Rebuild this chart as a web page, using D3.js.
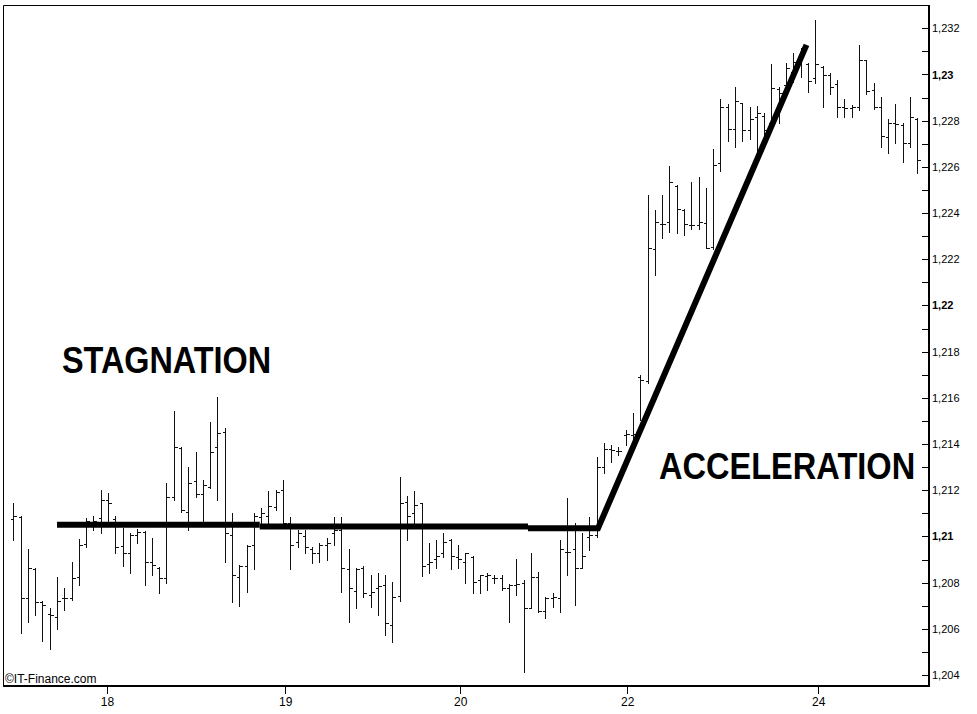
<!DOCTYPE html>
<html><head><meta charset="utf-8">
<script src="https://cdn.jsdelivr.net/npm/d3@7/dist/d3.min.js"></script>
<style>
html,body{margin:0;padding:0;background:#fff;}
svg{display:block;}
text{font-family:"Liberation Sans",Arial,sans-serif;}
</style></head>
<body>
<svg id="chart" width="977" height="714"></svg>
<script>
// ---- data (hourly OHLC) ----
const openV = [1.21074,1.21086,1.20732,1.20859,1.20718,1.20664,1.20653,1.20732,1.20732,1.20823,
1.20968,1.21064,1.21079,1.21158,1.21074,1.20959,1.20930,1.21006,1.21021,1.20891,
1.20862,1.20819,1.21172,1.21382,1.21107,1.21242,1.21184,1.21213,1.21386,1.21454,
1.21006,1.20823,1.20874,1.20963,1.21086,1.21089,1.21126,1.21201,1.21060,1.20977,
1.21002,1.20945,1.20927,1.20963,1.21016,1.21028,1.20858,1.20765,1.20862,1.20747,
1.20776,1.20790,1.20617,1.20742,1.21151,1.21103,1.21144,1.20881,1.20901,1.20927,
1.20985,1.20913,1.20891,1.20913,1.20812,1.20829,1.20819,1.20819,1.20776,1.20790,
1.20797,1.20689,1.20823,1.20679,1.20732,1.20732,1.20934,1.20945,1.20862,1.20996,
1.21006,1.21300,1.21378,1.21371,1.21439,1.21439,1.21691,1.21673,1.22245,1.22353,
1.22362,1.22518,1.22414,1.22349,1.22349,1.22357,1.22253,1.22617,1.22860,1.22764,
1.22877,1.22760,1.22816,1.22821,1.22790,1.22938,1.22955,1.23011,1.23063,1.23046,
1.22985,1.23033,1.22998,1.22959,1.22860,1.22855,1.22860,1.23063,1.22933,1.22860,
1.22730,1.22790,1.22782,1.22704,1.22808];
const highV = [1.21144,1.21089,1.20945,1.20862,1.20720,1.20689,1.20823,1.20776,1.20891,1.20988,
1.21079,1.21089,1.21201,1.21187,1.21090,1.21035,1.21014,1.21031,1.21025,1.20992,
1.20869,1.21233,1.21545,1.21386,1.21300,1.21367,1.21245,1.21497,1.21603,1.21468,
1.21103,1.20877,1.20963,1.21103,1.21122,1.21198,1.21201,1.21245,1.21086,1.21028,
1.21028,1.20956,1.20971,1.20992,1.21086,1.21086,1.20945,1.20862,1.20872,1.20833,
1.20843,1.20833,1.20804,1.21256,1.21175,1.21198,1.21146,1.20973,1.20985,1.21016,
1.20988,1.20963,1.20930,1.20916,1.20833,1.20841,1.20833,1.20833,1.20794,1.20901,
1.20812,1.20927,1.20848,1.20737,1.20754,1.20985,1.21165,1.21060,1.21014,1.21086,
1.21345,1.21404,1.21396,1.21386,1.21461,1.21536,1.21699,1.22479,1.22414,1.22479,
1.22604,1.22522,1.22418,1.22535,1.22557,1.22509,1.22678,1.22894,1.22873,1.22946,
1.22877,1.22860,1.22864,1.22834,1.23046,1.22946,1.23050,1.23094,1.23115,1.23050,
1.23236,1.23037,1.23007,1.22977,1.22894,1.22868,1.23128,1.23063,1.22964,1.22903,
1.22808,1.22873,1.22790,1.22903,1.22812];
const lowV = [1.20985,1.20583,1.20631,1.20660,1.20549,1.20513,1.20599,1.20682,1.20725,1.20790,
1.20956,1.21028,1.21014,1.21068,1.20927,1.20872,1.20841,1.20971,1.20790,1.20833,
1.20754,1.20800,1.21158,1.21107,1.21028,1.21172,1.21057,1.21209,1.21158,1.20891,
1.20718,1.20700,1.20758,1.20858,1.21057,1.21060,1.21115,1.21060,1.20859,1.20956,
1.20930,1.20884,1.20888,1.20898,1.20963,1.20761,1.20631,1.20689,1.20739,1.20693,
1.20660,1.20573,1.20544,1.20722,1.20985,1.21054,1.20829,1.20841,1.20862,1.20913,
1.20858,1.20862,1.20800,1.20757,1.20754,1.20768,1.20797,1.20768,1.20631,1.20747,
1.20415,1.20689,1.20674,1.20646,1.20696,1.20674,1.20833,1.20703,1.20862,1.20942,
1.20999,1.21274,1.21324,1.21353,1.21396,1.21404,1.21504,1.21665,1.22132,1.22292,
1.22318,1.22314,1.22305,1.22331,1.22331,1.22249,1.22245,1.22583,1.22712,1.22686,
1.22712,1.22721,1.22661,1.22708,1.22782,1.22790,1.22920,1.22968,1.22990,1.22925,
1.22964,1.22860,1.22916,1.22816,1.22816,1.22816,1.22847,1.22916,1.22851,1.22686,
1.22661,1.22704,1.22622,1.22686,1.22574];
const closeV = [1.21089,1.20732,1.20862,1.20718,1.20703,1.20660,1.20722,1.20732,1.20819,1.20963,
1.21068,1.21068,1.21158,1.21144,1.20956,1.20930,1.21006,1.21021,1.20891,1.20877,
1.20819,1.21172,1.21386,1.21115,1.21230,1.21184,1.21223,1.21367,1.21447,1.21014,
1.20833,1.20874,1.20960,1.21089,1.21103,1.21132,1.21194,1.21060,1.20963,1.21014,
1.20956,1.20930,1.20963,1.20973,1.21028,1.20862,1.20776,1.20858,1.20754,1.20761,
1.20786,1.20624,1.20739,1.21144,1.21089,1.21136,1.20872,1.20891,1.20916,1.20977,
1.20916,1.20901,1.20927,1.20804,1.20833,1.20833,1.20819,1.20776,1.20790,1.20794,
1.20689,1.20823,1.20679,1.20732,1.20739,1.20945,1.20934,1.20862,1.20916,1.21006,
1.21300,1.21378,1.21375,1.21371,1.21444,1.21444,1.21678,1.22249,1.22362,1.22353,
1.22535,1.22418,1.22353,1.22349,1.22362,1.22249,1.22609,1.22860,1.22764,1.22886,
1.22760,1.22808,1.22834,1.22760,1.22942,1.22920,1.23029,1.23055,1.23098,1.22972,
1.23046,1.22998,1.22946,1.22860,1.22855,1.22860,1.23063,1.22929,1.22860,1.22734,
1.22790,1.22786,1.22704,1.22816,1.22630];

// day labels on the time axis, and the bar index where each one falls
const dayLabels = ["18","19","20","22","24"];
const dayTickAt = [12.85, 37.3, 61.3, 84.2, 110.4];

// price axis
const priceTicks = [1.204,1.205,1.206,1.207,1.208,1.209,1.21,1.211,1.212,1.213,1.214,1.215,1.216,
1.217,1.218,1.219,1.22,1.221,1.222,1.223,1.224,1.225,1.226,1.227,1.228,1.229,1.23,1.231,1.232];
const priceLabels = ["1,204","","1,206","","1,208","","1,21","","1,212","","1,214","","1,216",
"","1,218","","1,22","","1,222","","1,224","","1,226","","1,228","","1,23","","1,232"];
const boldLabels = ["1,21","1,22","1,23"];

// hand-drawn trend lines (bar index, price)
const stagnationIdx = [6.0, 33.8, 33.8, 70.6, 70.6, 80.2];
const stagnationVal = [1.21050, 1.21050, 1.21043, 1.21043, 1.21035, 1.21035];
const accelIdx = [80.2, 108.8];
const accelVal = [1.21024, 1.23128];

// ---- drawing ----
const svg = d3.select("#chart");
svg.append("rect").attr("width",977).attr("height",714).attr("fill","#fff");

const n = openV.length;
const x = d3.scaleLinear().domain([0, n-1]).range([13.3, 917.3]);
const y = d3.scaleLinear().domain([1.204, 1.232]).range([675, 28.3]);

const L = 3.5, T = 5.5, R = 929, B = 686;

// frame
svg.append("path")
  .attr("d", `M${R},${T}H${L}V${B}`)
  .attr("fill","none").attr("stroke","#000").attr("stroke-width",1);

// bars
const bars = d3.range(n).map(i => ({i, o:openV[i], h:highV[i], l:lowV[i], c:closeV[i]}));
const g = svg.append("g").attr("stroke","#111").attr("stroke-width",1).attr("shape-rendering","crispEdges");
const px = d => Math.round(x(d.i)) + 0.5;
const py = v => Math.round(y(v)) + 0.5;
g.selectAll(".hl").data(bars).join("line")
  .attr("x1",px).attr("x2",px)
  .attr("y1",d=>Math.round(y(d.h))).attr("y2",d=>Math.round(y(d.l))+1);
g.selectAll(".op").data(bars).join("line")
  .attr("x1",d=>px(d)-3).attr("x2",px)
  .attr("y1",d=>py(d.o)).attr("y2",d=>py(d.o));
g.selectAll(".cl").data(bars).join("line")
  .attr("x1",px).attr("x2",d=>px(d)+3)
  .attr("y1",d=>py(d.c)).attr("y2",d=>py(d.c));

// trend lines
const line = d3.line().x(d=>x(d[0])).y(d=>y(d[1]));
svg.append("path")
  .attr("d", line(d3.zip(stagnationIdx.slice(0,2), stagnationVal.slice(0,2))))
  .attr("stroke","#000").attr("stroke-width",6).attr("fill","none");
svg.append("path")
  .attr("d", line(d3.zip(stagnationIdx.slice(2,4), stagnationVal.slice(2,4))))
  .attr("stroke","#000").attr("stroke-width",6).attr("fill","none");
svg.append("path")
  .attr("d", line(d3.zip(stagnationIdx.slice(4,6).concat(accelIdx.slice(1)), stagnationVal.slice(4,6).concat(accelVal.slice(1)))))
  .attr("stroke","#000").attr("stroke-width",6).attr("fill","none")
  .attr("stroke-linejoin","miter").attr("stroke-miterlimit",10);

// price axis on the right
const yAxis = d3.axisRight(y).tickValues(priceTicks)
  .tickFormat((d,i)=>priceLabels[i]).tickSize(-7).tickPadding(3);
const ya = svg.append("g").attr("transform",`translate(${R},0)`).call(yAxis);
ya.select(".domain").remove();
ya.selectAll(".tick line").attr("stroke","#000").attr("shape-rendering","crispEdges");
ya.selectAll(".tick text")
  .attr("font-family","'Liberation Sans',Arial,sans-serif")
  .attr("font-size",11).attr("fill","#000")
  .attr("font-weight",d=>boldLabels.includes(priceLabels[priceTicks.indexOf(d)])?"bold":"normal");

// time axis
const xAxis = d3.axisBottom(x).tickValues(dayTickAt)
  .tickFormat((d,i)=>dayLabels[i]).tickSize(8).tickPadding(3);
const xa = svg.append("g").attr("transform",`translate(0,${B})`).call(xAxis);
xa.select(".domain").remove();
xa.selectAll(".tick line").attr("stroke","#000").attr("shape-rendering","crispEdges");
xa.selectAll(".tick text")
  .attr("font-family","'Liberation Sans',Arial,sans-serif")
  .attr("font-size",12).attr("fill","#000");

// thick right & bottom axis lines
svg.append("line").attr("x1",R).attr("x2",R).attr("y1",T-0.5).attr("y2",B+1)
  .attr("stroke","#000").attr("stroke-width",2);
svg.append("line").attr("x1",L-0.5).attr("x2",R+1).attr("y1",B).attr("y2",B)
  .attr("stroke","#000").attr("stroke-width",2);

// annotations (horizontally condensed like the original)
svg.append("text")
  .attr("transform","translate(62,373) scale(0.875,1)")
  .attr("font-size",37).attr("font-weight","bold")
  .text("STAGNATION");
svg.append("text")
  .attr("transform","translate(659,479) scale(0.88,1)")
  .attr("font-size",37).attr("font-weight","bold")
  .text("ACCELERATION");
svg.append("text")
  .attr("x",5).attr("y",683)
  .attr("font-size",12)
  .text("©IT-Finance.com");
</script>
</body></html>
